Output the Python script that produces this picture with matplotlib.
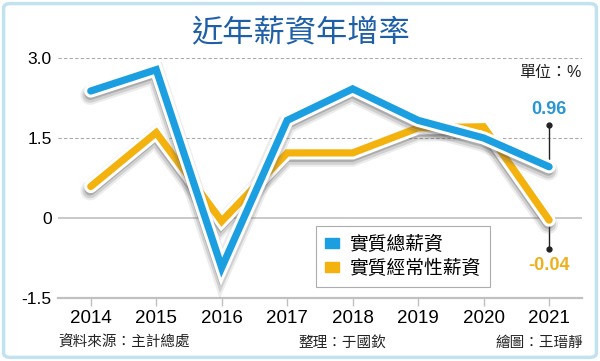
import matplotlib
matplotlib.use('Agg')
import matplotlib.pyplot as plt
import matplotlib.patheffects as pe
from matplotlib.patches import FancyBboxPatch

plt.rcParams['font.family'] = ['Liberation Sans', 'Noto Sans CJK TC', 'DejaVu Sans']

years = [2014, 2015, 2016, 2017, 2018, 2019, 2020, 2021]
total_wage = [2.38, 2.78, -0.93, 1.83, 2.42, 1.83, 1.50, 0.96]
regular_wage = [0.59, 1.60, -0.06, 1.22, 1.22, 1.69, 1.71, -0.04]
labels = ['實質總薪資', '實質經常性薪資']
yticks = [3.0, 1.5, 0, -1.5]
ytick_labels = ['3.0', '1.5', '0', '-1.5']

blue = '#1b9fe0'
orange = '#f4b20f'

fig = plt.figure(figsize=(6, 3.61), dpi=100)
fig.patch.set_facecolor('white')
border = FancyBboxPatch((0.006, 0.01), 0.988, 0.98, boxstyle='round,pad=0,rounding_size=0.012',
                        transform=fig.transFigure, facecolor='none', edgecolor='#c3e2f0',
                        linewidth=2.5, zorder=-1)
fig.patches.append(border)

ax = fig.add_axes([0.0967, 0.1745, 0.873, 0.665])
ax.patch.set_alpha(0)
ax.set_xlim(2013.5, 2021.5)
ax.set_ylim(-1.5, 3.0)
for s in ax.spines.values():
    s.set_visible(False)

ax.axhline(3.0, color='#aaaaaa', linestyle=(0, (3, 2)), linewidth=0.8, zorder=1)
ax.axhline(1.5, color='#aaaaaa', linestyle=(0, (3, 2)), linewidth=0.8, zorder=1)
ax.axhline(0, color='#bbbbbb', linewidth=1.1, zorder=1)
ax.axhline(-1.5, color='#c0c0c0', linewidth=1.6, zorder=1, clip_on=False)

# soft shadow built from a few layered strokes
effects = [pe.SimpleLineShadow(offset=(-0.5, -3), shadow_color='#666666', alpha=0.12, linewidth=14),
           pe.SimpleLineShadow(offset=(-0.5, -3), shadow_color='#555555', alpha=0.18, linewidth=11),
           pe.SimpleLineShadow(offset=(-0.5, -2.5), shadow_color='#444444', alpha=0.25, linewidth=8),
           pe.Stroke(linewidth=9.5, foreground='white'), pe.Normal()]
ax.plot(years, regular_wage, color=orange, linewidth=5.2, solid_joinstyle='miter',
        solid_capstyle='round', path_effects=effects, zorder=3)
ax.plot(years, total_wage, color=blue, linewidth=5.2, solid_joinstyle='miter',
        solid_capstyle='round', path_effects=effects, zorder=4)

# annotations for 2021
ax.plot([2021, 2021], [total_wage[-1], 1.74], color='#222222', linewidth=1, zorder=2)
ax.plot([2021], [1.74], 'o', color='#222222', markersize=3.5, zorder=2)
ax.plot([2021, 2021], [regular_wage[-1], -0.58], color='#222222', linewidth=1, zorder=2)
ax.plot([2021], [-0.58], 'o', color='#222222', markersize=3.5, zorder=2)
ax.text(2021, 2.03, f'{total_wage[-1]:.2f}', color='#2896d2', fontsize=13, fontweight='bold',
        ha='center', va='center')
ax.text(2021, -0.9, f'{regular_wage[-1]:.2f}', color='#ecb11c', fontsize=13, fontweight='bold',
        ha='center', va='center')
ax.text(2021.49, 2.72, '單位：%', fontsize=11.5, ha='right', va='center', color='#222222')

ax.set_yticks(yticks)
ax.set_yticklabels(ytick_labels, fontsize=12.5)
ax.tick_params(axis='y', length=0, pad=4.5)
ax.set_xticks(years)
ax.set_xticklabels([str(y) for y in years], fontsize=13.5)
ax.tick_params(axis='x', length=5.5, width=1, color='#c0c0c0', pad=3)

handles = [plt.Rectangle((0, 0), 1, 1, color=blue), plt.Rectangle((0, 0), 1, 1, color=orange)]
leg = ax.legend(handles, labels, loc='lower left', bbox_to_anchor=(0.492, 0.046), borderaxespad=0,
                fontsize=13.5, frameon=True, fancybox=False, edgecolor='#999999',
                handlelength=0.75, handleheight=0.45, labelspacing=0.3, borderpad=0.5,
                handletextpad=0.55)
leg.get_frame().set_linewidth(0.8)

fig.text(0.501, 0.908, '近年薪資年增率', fontsize=22.5, color='#1f5fa8', ha='center', va='center',
         family=['Noto Sans CJK TC'])
fig.text(0.097, 0.05, '資料來源：主計總處', fontsize=10.5, ha='left', va='center', color='#222222')
fig.text(0.571, 0.05, '整理：于國欽', fontsize=10.5, ha='center', va='center', color='#222222')
fig.text(0.972, 0.05, '繪圖：王瑨靜', fontsize=10.5, ha='right', va='center', color='#222222')

fig.savefig('out.png', dpi=100)
